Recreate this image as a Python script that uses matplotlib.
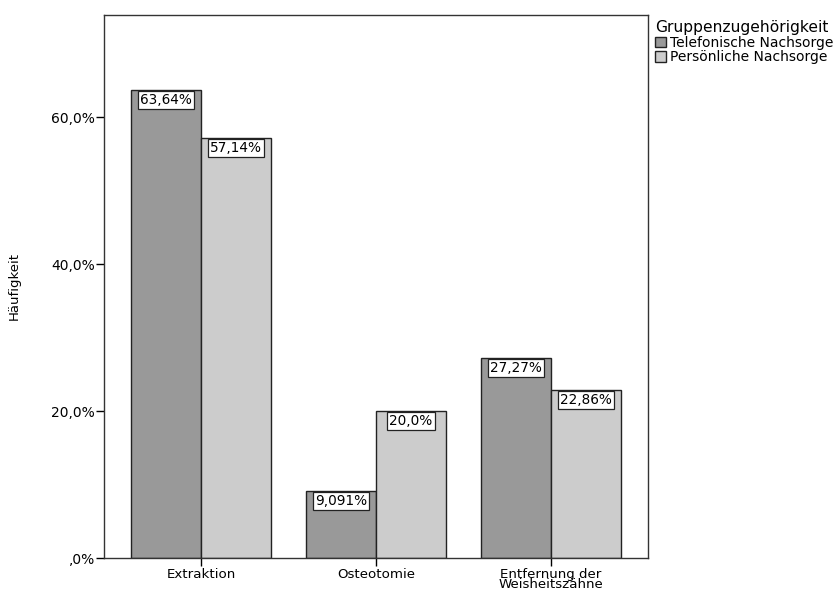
import numpy as np
import matplotlib.pyplot as plt

plt.rcParams['font.family'] = ['DejaVu Sans']

# Häufigkeiten je Eingriff und Gruppe (in Prozent)
eingriffe = ['Extraktion', 'Osteotomie', 'Entfernung der\nWeisheitszähne']
telefonisch = [63.64, 9.091, 27.27]
persoenlich = [57.14, 20.0, 22.86]
werte_tel = ['63,64%', '9,091%', '27,27%']
werte_pers = ['57,14%', '20,0%', '22,86%']
y_ticks = [0, 20, 40, 60]
y_ticklabels = [',0%', '20,0%', '40,0%', '60,0%']

fig = plt.figure(figsize=(8.37, 5.92), dpi=100)
ax = fig.add_axes([104/837, 1 - 558/592, (648 - 104)/837, (558 - 15)/592])

x = np.arange(len(eingriffe))
b = 0.4
bars1 = ax.bar(x - b/2, telefonisch, b, color='#999999', edgecolor='#222222',
               linewidth=1, label='Telefonische Nachsorge')
bars2 = ax.bar(x + b/2, persoenlich, b, color='#cccccc', edgecolor='#222222',
               linewidth=1, label='Persönliche Nachsorge')

# Wertebeschriftung oben in den Balken
for bars, texte in [(bars1, werte_tel), (bars2, werte_pers)]:
    for rect, t in zip(bars, texte):
        ax.annotate(t, (rect.get_x() + rect.get_width()/2, rect.get_height()),
                    xytext=(0, -2.2), textcoords='offset points',
                    ha='center', va='top', fontsize=9.8,
                    bbox=dict(boxstyle='square,pad=0.15', fc='white',
                              ec='#222222', lw=0.9))

ax.set_xlim(-0.554, 2.554)
ax.set_ylim(0, 73.9)
ax.set_xticks(x)
ax.set_xticklabels(eingriffe, fontsize=9.6, linespacing=0.72)
ax.set_yticks(y_ticks)
ax.set_yticklabels(y_ticklabels, fontsize=10)
ax.tick_params(axis='x', direction='out', length=6, width=1, pad=1)
ax.tick_params(axis='y', direction='out', length=5.5, width=1, pad=1)
ax.set_ylabel('Häufigkeit', fontsize=9.5, labelpad=22)
for s in ax.spines.values():
    s.set_color('#333333')
    s.set_linewidth(1)

fig.legend(handles=[bars1, bars2], loc='upper left',
           bbox_to_anchor=(655/837, 1 - 20/592), frameon=False,
           title='Gruppenzugehörigkeit', title_fontsize=11.2, fontsize=10,
           alignment='left', handlelength=0.8, handleheight=0.8,
           handletextpad=0.3, labelspacing=0.05, borderpad=0, borderaxespad=0)

plt.savefig('out.png', dpi=100)
